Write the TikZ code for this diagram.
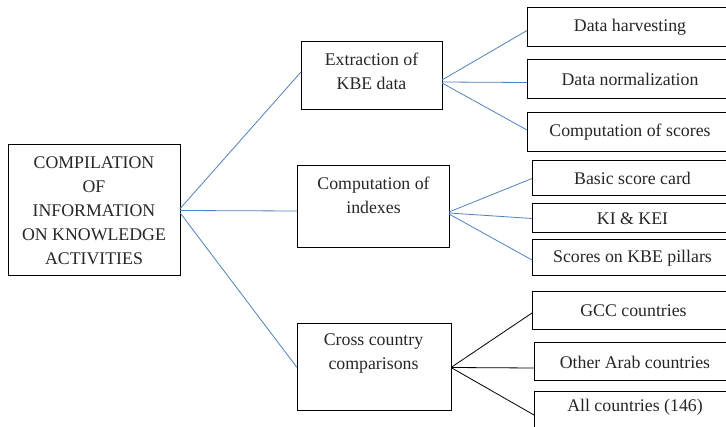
\documentclass[tikz,border=0pt]{standalone}
\usepackage{fontspec}
\setmainfont{Liberation Serif}
\newfontfamily\timesx{Liberation Serif}
\definecolor{linkblue}{RGB}{79,129,189}
\begin{document}
\begin{tikzpicture}[x=1pt,y=-1pt,
  box/.style={draw=black,line width=1pt,rectangle,inner sep=0pt,outer sep=0pt},
  leaf/.style={box,font=\timesx\fontsize{17.8}{23.8}\selectfont,text=black!85},
  txt/.style={align=center,inner sep=0pt,font=\timesx\fontsize{17.8}{24}\selectfont,text=black!85},
  bl/.style={draw=linkblue,line width=0.8pt},
  kl/.style={draw=black,line width=0.8pt}]
\useasboundingbox (0,0) rectangle (726,427);
\clip (0,0) rectangle (726,427);
% root
\node[box,minimum width=172,minimum height=131] (root) at (94,210.5) {};
\node[txt] (rootT) at (94,211) {COMPILATION\\OF\\INFORMATION\\ON KNOWLEDGE\\ACTIVITIES};
% middle level
\node[box,minimum width=141,minimum height=68] (ext) at (371.5,76) {};
\node[txt] (extT) at (371.5,71.5) {Extraction of\\KBE data};
\node[box,minimum width=152,minimum height=82] (idx) at (373,207) {};
\node[txt] (idxT) at (373.5,195) {Computation of\\indexes};
\node[box,minimum width=154,minimum height=87] (cross) at (374,367.5) {};
\node[txt] (crossT) at (373.5,354) {Cross country\\comparisons};
% leaves
\node[leaf,minimum width=206,minimum height=39] (l1) at (630,27.5) {Data harvesting};
\node[leaf,minimum width=206,minimum height=39] (l2) at (630,79.5) {Data normalization};
\node[leaf,minimum width=206,minimum height=39] (l3) at (630,132.5) {Computation of scores};
\node[leaf,minimum width=201,minimum height=35] (l4) at (632.5,178.5) {Basic score card};
\node[leaf,minimum width=201,minimum height=29] (l5) at (632.5,218.5) {KI \& KEI};
\node[leaf,minimum width=201,minimum height=36] (l6) at (632.5,258) {Scores on KBE pillars};
\node[leaf,minimum width=203,minimum height=38] (l7) at (633.5,311) {GCC countries};
\node[leaf,minimum width=202,minimum height=38] (l8) at (635,362) {Other Arab countries};
\node[box,minimum width=202,minimum height=48] (l9) at (635,416) {};
\node[txt] (l9T) at (635,407) {All countries (146)};
% connectors root -> middle
\draw[bl] ([yshift=1.8pt]root.east) -- ([yshift=4pt]ext.west);
\draw[bl] (root.east) -- ([yshift=-4pt]idx.west);
\draw[bl] ([yshift=-2.2pt]root.east) -- (cross.west);
% ext -> leaves
\draw[bl] ([yshift=-4pt]ext.east) -- ([yshift=-3pt]l1.west);
\draw[bl] ([yshift=-6pt]ext.east) -- ([yshift=-3pt]l2.west);
\draw[bl] ([yshift=-7pt]ext.east) -- ([yshift=2.5pt]l3.west);
% idx -> leaves
\draw[bl] ([yshift=-5pt]idx.east) -- (l4.west);
\draw[bl] ([yshift=-6pt]idx.east) -- (l5.west);
\draw[bl] ([yshift=-7pt]idx.east) -- ([yshift=-2pt]l6.west);
% cross -> leaves
\draw[kl] (cross.east) -- ([yshift=-2pt]l7.west);
\draw[kl] (cross.east) -- ([yshift=-6pt]l8.west);
\draw[kl] (cross.east) -- ([yshift=1pt]l9.west);
\end{tikzpicture}
\end{document}
